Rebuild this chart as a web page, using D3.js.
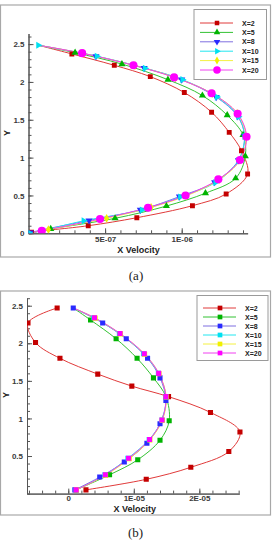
<!DOCTYPE html>
<html>
<head>
<meta charset="utf-8">
<script src="https://cdn.jsdelivr.net/npm/d3@7"></script>
<style>
  body { margin: 0; background: #fff; }
  svg { display: block; font-family: 'Liberation Sans', Arial, sans-serif; }
  .axis path, .axis line { stroke: #555; stroke-width: 1; }
  .axis text { font-size: 8px; font-weight: bold; fill: #3a3a3a; font-family: 'Liberation Sans', Arial, sans-serif; }
  .axis-title { font-size: 9px; font-weight: bold; fill: #222; }
  .legend-text { font-size: 7px; font-weight: bold; fill: #222; }
  .caption { font-family: 'Liberation Serif', 'Times New Roman', serif; font-size: 13px; fill: #222; }
</style>
</head>
<body>
<div id="chart"></div>
<script>
// DATA
const seriesNames = ['X=2', 'X=5', 'X=8', 'X=10', 'X=15', 'X=20']

// panel (a): [x velocity, y]
const topA = [6.4e-8, 2.485]
const bottomA = [0, 0]
const velA_X2 = [[2.83e-7, 2.37], [5.6e-7, 2.22], [7.95e-7, 2.07], [1.017e-6, 1.86], [1.195e-6, 1.60], [1.31e-6, 1.334], [1.39e-6, 1.09], [1.43e-6, 0.783], [1.29e-6, 0.52], [1.07e-6, 0.365], [7.07e-7, 0.206], [3.9e-7, 0.10], [2e-8, 0.013]]
const velA_X5 = [[3.04e-7, 2.386], [6.1e-7, 2.236], [9.1e-7, 2.03], [1.135e-6, 1.82], [1.297e-6, 1.56], [1.40e-6, 1.30], [1.415e-6, 1.02], [1.352e-6, 0.727], [1.155e-6, 0.53], [9.0e-7, 0.36], [5.65e-7, 0.198], [1.45e-7, 0.057]]
const velA_X8 = [[4.4e-7, 2.34], [7.55e-7, 2.185], [1.0e-6, 2.03], [1.225e-6, 1.80], [1.365e-6, 1.545], [1.41e-6, 1.285], [1.37e-6, 0.965], [1.215e-6, 0.675], [9.85e-7, 0.485], [7.3e-7, 0.31], [3.95e-7, 0.17], [1.2e-8, 0.01]]
const velA_X10 = [[6.4e-8, 2.485], [4.46e-7, 2.34], [7.6e-7, 2.18], [1.005e-6, 2.03], [1.23e-6, 1.80], [1.37e-6, 1.54], [1.41e-6, 1.28], [1.37e-6, 0.96], [1.22e-6, 0.67], [9.9e-7, 0.48], [7.4e-7, 0.308], [3.6e-7, 0.165], [1e-8, 0.0]]
const velA_X15 = [[3.6e-7, 2.375], [6.95e-7, 2.215], [9.6e-7, 2.055], [1.2e-6, 1.845], [1.362e-6, 1.585], [1.42e-6, 1.275], [1.38e-6, 0.965], [1.245e-6, 0.71], [1.03e-6, 0.495], [8.0e-7, 0.343], [5.1e-7, 0.198], [1.3e-7, 0.05]]
const velA_X20 = [[3.5e-7, 2.38], [6.85e-7, 2.22], [9.5e-7, 2.06], [1.195e-6, 1.85], [1.365e-6, 1.58], [1.423e-6, 1.276], [1.38e-6, 0.968], [1.239e-6, 0.713], [1.025e-6, 0.50], [7.8e-7, 0.338], [4.67e-7, 0.189], [8.7e-8, 0.034]]

// panel (b)
const topB = [7.6e-7, 2.47]
const velB_X2 = [[-1.7e-6, 2.47], [-6.15e-6, 2.27], [-5.0e-6, 2.01], [-1.27e-6, 1.80], [4.5e-6, 1.59], [9.7e-6, 1.43], [1.53e-5, 1.29], [2.17e-5, 1.08], [2.62e-5, 0.82], [2.45e-5, 0.56], [1.87e-5, 0.35], [1.19e-5, 0.19], [2.7e-6, 0.05]]
const velB_X5 = [[3.4e-6, 2.31], [7.3e-6, 2.06], [1.05e-5, 1.80], [1.30e-5, 1.54], [1.49e-5, 1.29], [1.54e-5, 0.97], [1.40e-5, 0.71], [1.06e-5, 0.45], [6.3e-6, 0.25], [1.2e-6, 0.05]]
const velB_X8 = [[7.6e-7, 2.47], [5.25e-6, 2.27], [8.85e-6, 2.06], [1.21e-5, 1.80], [1.40e-5, 1.54], [1.49e-5, 1.24], [1.40e-5, 0.93], [1.20e-5, 0.67], [8.55e-6, 0.42], [4.8e-6, 0.22], [1.0e-6, 0.05]]
const velB_X10 = [[3.9e-6, 2.34], [7.8e-6, 2.13], [1.15e-5, 1.86], [1.375e-5, 1.60], [1.49e-5, 1.29], [1.43e-5, 0.98], [1.235e-5, 0.72], [9.1e-6, 0.47], [5.6e-6, 0.25], [1.2e-6, 0.05]]
const velB_X15 = [[4.1e-6, 2.335], [7.95e-6, 2.125], [1.165e-5, 1.855], [1.385e-5, 1.595], [1.495e-5, 1.285], [1.435e-5, 0.975], [1.245e-5, 0.715], [9.3e-6, 0.465], [5.7e-6, 0.245], [1.25e-6, 0.05]]
const velB_X20 = [[4.0e-6, 2.34], [7.9e-6, 2.13], [1.16e-5, 1.86], [1.38e-5, 1.60], [1.49e-5, 1.29], [1.43e-5, 0.98], [1.24e-5, 0.72], [9.2e-6, 0.47], [5.65e-6, 0.25], [1.2e-6, 0.05]]

// tick labels
const xTicksA = [5e-7, 1e-6]
const xLabelsA = ['5E-07', '1E-06']
const yTicksA = [0, 0.5, 1, 1.5, 2, 2.5]
const yLabelsA = ['0', '0.5', '1', '1.5', '2', '2.5']
const xTicksB = [0, 1e-5, 2e-5]
const xLabelsB = ['0', '1E-05', '2E-05']
const yTicksB = [0.5, 1, 1.5, 2, 2.5]
const yLabelsB = ['0.5', '1', '1.5', '2', '2.5']

// SETTINGS
const settings = {
    width: 274,
    height: 545,
    lineColors: ['#e03a3a', '#33c233', '#7f6fe0', '#22e6f0', '#f4f040', '#f040f0'],
    markerColors: ['#c40000', '#00b400', '#2a2aff', '#00e0f0', '#f0f000', '#ff00ff'],
    panelA: {
        frame: { x: 0.5, y: 5, w: 270, h: 252 },
        xDomain: [0, 1.43e-6], xRange: [28.5, 247.6],
        yDomain: [0, 2.64], yRange: [233.3, 33.5],
        xMinorStep: 1e-7, yMinorStep: 0.1, xPad: 3,
        markers: ['square', 'up', 'down', 'right', 'diamond', 'circle'],
        markerSizes: [24, 22, 22, 22, 22, 52],
        legend: { x: 194, y: 9.5, w: 72.5, h: 70, row0: 13.5, rowGap: 9.4 },
        xTitle: { x: 138.5, y: 252.5 }, yTitle: { x: 10, y: 133 },
        caption: { text: '(a)', x: 136, y: 279.5 }
    },
    panelB: {
        frame: { x: 0.5, y: 291, w: 270, h: 224 },
        xDomain: [-6.3e-6, 2.61e-5], xRange: [27, 239.3],
        yDomain: [0, 2.6], yRange: [493.6, 298.2],
        xMinorStep: 2e-6, yMinorStep: 0.1, xPad: 2,
        markers: ['square', 'square', 'square', 'square', 'square', 'square'],
        markerSizes: [26, 26, 26, 26, 26, 26],
        legend: { x: 197, y: 295.5, w: 71, h: 65, row0: 12.5, rowGap: 9 },
        xTitle: { x: 134.7, y: 511.5 }, yTitle: { x: 9, y: 395 },
        caption: { text: '(b)', x: 135.5, y: 537 }
    }
}

// EXECUTION
const svg = d3.select('#chart').append('svg')
    .attr('width', settings.width)
    .attr('height', settings.height)

drawPanel('a', settings.panelA,
    [velA_X2, velA_X5, velA_X8, velA_X10, velA_X15, velA_X20],
    [topA, topA, topA, topA, topA, topA], [bottomA, bottomA, bottomA, bottomA, bottomA, bottomA],
    xTicksA, xLabelsA, yTicksA, yLabelsA)

drawPanel('b', settings.panelB,
    [velB_X2, velB_X5, velB_X8, velB_X10, velB_X15, velB_X20],
    [null, topB, null, topB, topB, topB], [null, null, null, null, null, null],
    xTicksB, xLabelsB, yTicksB, yLabelsB)

// PANEL FUNCTIONS
function drawPanel(id, cfg, series, starts, ends, xTicks, xLabels, yTicks, yLabels) {
    const g = svg.append('g').attr('id', 'panel-' + id)

    g.append('rect')
        .attr('x', cfg.frame.x).attr('y', cfg.frame.y)
        .attr('width', cfg.frame.w).attr('height', cfg.frame.h)
        .attr('fill', 'none').attr('stroke', '#a8a8a8').attr('stroke-width', 1.2)

    const x = d3.scaleLinear().domain(cfg.xDomain).range(cfg.xRange)
    const y = d3.scaleLinear().domain(cfg.yDomain).range(cfg.yRange)

    // minor ticks
    const xMinor = d3.range(Math.ceil(cfg.xDomain[0] / cfg.xMinorStep), Math.floor(cfg.xDomain[1] / cfg.xMinorStep) + 1)
        .map(i => i * cfg.xMinorStep)
    const yMinor = d3.range(0, Math.floor(cfg.yDomain[1] / cfg.yMinorStep) + 1).map(i => i * cfg.yMinorStep)

    g.append('g').attr('class', 'axis')
        .attr('transform', `translate(0, ${cfg.yRange[0]})`)
        .call(d3.axisBottom(x).tickValues(xMinor).tickFormat('').tickSize(-3).tickSizeOuter(0))
    g.append('g').attr('class', 'axis')
        .attr('transform', `translate(${cfg.xRange[0]}, 0)`)
        .call(d3.axisLeft(y).tickValues(yMinor).tickFormat('').tickSize(-3).tickSizeOuter(0))

    // major ticks
    g.append('g').attr('class', 'axis')
        .attr('transform', `translate(0, ${cfg.yRange[0]})`)
        .call(d3.axisBottom(x).tickValues(xTicks).tickFormat((d, i) => xLabels[i]).tickSize(-5).tickSizeOuter(0).tickPadding(cfg.xPad))
    g.append('g').attr('class', 'axis')
        .attr('transform', `translate(${cfg.xRange[0]}, 0)`)
        .call(d3.axisLeft(y).tickValues(yTicks).tickFormat((d, i) => yLabels[i]).tickSize(-5).tickSizeOuter(0).tickPadding(4))

    // clip
    svg.append('clipPath').attr('id', 'clip-' + id)
        .append('rect')
        .attr('x', cfg.xRange[0]).attr('y', cfg.yRange[1] - 8)
        .attr('width', cfg.xRange[1] - cfg.xRange[0] + 8)
        .attr('height', cfg.yRange[0] - cfg.yRange[1] + 8)

    const plot = g.append('g').attr('clip-path', `url(#clip-${id})`)

    const line = d3.line()
        .x(d => x(d[0]))
        .y(d => y(d[1]))
        .curve(d3.curveCatmullRom.alpha(0.5))

    series.forEach((pts, i) => {
        const path = [].concat(starts[i] ? [starts[i]] : [], pts, ends[i] ? [ends[i]] : [])
        plot.append('path')
            .datum(path)
            .attr('d', line)
            .attr('fill', 'none')
            .attr('stroke', settings.lineColors[i])
            .attr('stroke-width', 1)
    })

    series.forEach((pts, i) => {
        plot.selectAll('.marker-' + i)
            .data(pts)
            .enter().append('path')
            .attr('class', 'marker-' + i)
            .attr('d', markerPath(cfg.markers[i], cfg.markerSizes[i]))
            .attr('transform', d => `translate(${x(d[0])}, ${y(d[1])}) rotate(${markerRotation(cfg.markers[i])})`)
            .attr('fill', settings.markerColors[i])
    })

    // titles
    g.append('text').attr('class', 'axis-title')
        .attr('x', cfg.xTitle.x).attr('y', cfg.xTitle.y)
        .attr('text-anchor', 'middle')
        .text('X Velocity')
    g.append('text').attr('class', 'axis-title')
        .attr('transform', `translate(${cfg.yTitle.x}, ${cfg.yTitle.y}) rotate(-90)`)
        .attr('text-anchor', 'middle')
        .text('Y')
    svg.append('text').attr('class', 'caption')
        .attr('x', cfg.caption.x).attr('y', cfg.caption.y)
        .attr('text-anchor', 'middle')
        .text(cfg.caption.text)

    drawLegend(g, cfg)
}

function drawLegend(g, cfg) {
    const lg = cfg.legend
    const legend = g.append('g').attr('transform', `translate(${lg.x}, ${lg.y})`)

    legend.append('rect')
        .attr('width', lg.w).attr('height', lg.h)
        .attr('fill', '#fff').attr('stroke', '#9a9a9a').attr('stroke-width', 1)

    seriesNames.forEach((name, i) => {
        const ry = lg.row0 + i * lg.rowGap
        legend.append('line')
            .attr('x1', 6).attr('x2', 39).attr('y1', ry).attr('y2', ry)
            .attr('stroke', settings.lineColors[i]).attr('stroke-width', 1)
        legend.append('path')
            .attr('d', markerPath(cfg.markers[i], cfg.markerSizes[i] * 0.85))
            .attr('transform', `translate(23, ${ry}) rotate(${markerRotation(cfg.markers[i])})`)
            .attr('fill', settings.markerColors[i])
        legend.append('text').attr('class', 'legend-text')
            .attr('x', 48).attr('y', ry + 2.5)
            .text(name)
    })
}

// HELPER FUNCTIONS
function markerPath(kind, size) {
    const types = {
        square: d3.symbolSquare,
        up: d3.symbolTriangle,
        down: d3.symbolTriangle,
        right: d3.symbolTriangle,
        diamond: d3.symbolDiamond,
        circle: d3.symbolCircle
    }
    return d3.symbol().type(types[kind]).size(size)()
}

function markerRotation(kind) {
    if (kind === 'down') return 180
    if (kind === 'right') return 90
    return 0
}
</script>
</body>
</html>
